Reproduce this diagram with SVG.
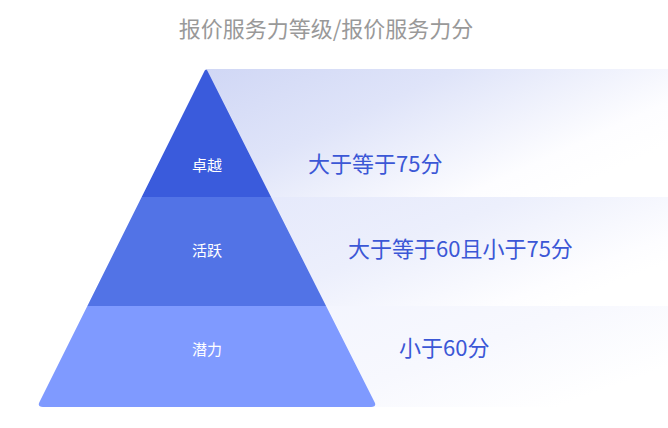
<svg xmlns="http://www.w3.org/2000/svg" width="668" height="428" viewBox="0 0 668 428">
  <style>
    .title { font-family: "Noto Sans CJK SC", "Noto Sans", sans-serif; font-size: 22px; fill: #999999; }
    .lvl { font-family: "Noto Sans CJK SC", "Noto Sans", sans-serif; font-size: 15px; fill: #ffffff; }
    .desc { font-family: "Noto Sans CJK SC", "Noto Sans", sans-serif; font-size: 22px; fill: #3b57d6; }
  </style>
  <defs>
    <linearGradient id="g1" x1="0" y1="0" x2="1" y2="0.6">
      <stop offset="0" stop-color="#d0d7f5"/>
      <stop offset="0.4" stop-color="#dfe4f9"/>
      <stop offset="0.85" stop-color="#fdfdff"/>
      <stop offset="1" stop-color="#ffffff"/>
    </linearGradient>
    <linearGradient id="g2" x1="0" y1="0" x2="1" y2="0.6">
      <stop offset="0" stop-color="#e4e8fb"/>
      <stop offset="0.5" stop-color="#eceffc"/>
      <stop offset="0.9" stop-color="#fdfdff"/>
      <stop offset="1" stop-color="#ffffff"/>
    </linearGradient>
    <linearGradient id="g3" x1="0" y1="0" x2="1" y2="0.6">
      <stop offset="0" stop-color="#f2f4fe"/>
      <stop offset="0.6" stop-color="#f7f8fe"/>
      <stop offset="1" stop-color="#ffffff"/>
    </linearGradient>
    <clipPath id="tri">
      <path d="M203.5 73 Q206 66 208.5 73 L374.5 402 Q377 407 371 407 L43 407 Q37 407 39.5 402 Z"/>
    </clipPath>
  </defs>

  <text class="title" x="326" y="37" text-anchor="middle">报价服务力等级/报价服务力分</text>

  <g id="backgrounds">
    <rect x="206" y="69" width="462" height="128" fill="url(#g1)"/>
    <rect x="206" y="197" width="462" height="109" fill="url(#g2)"/>
    <rect x="206" y="306" width="462" height="101" fill="url(#g3)"/>
  </g>

  <g id="connectors"></g>

  <g id="level-top">
    <rect x="30" y="60" width="360" height="137" fill="#3a5bdc" clip-path="url(#tri)"/>
    <text class="lvl" x="207" y="171" text-anchor="middle">卓越</text>
    <text class="desc" x="308" y="172">大于等于75分</text>
  </g>
  <g id="level-mid">
    <rect x="30" y="197" width="360" height="109" fill="#5273e6" clip-path="url(#tri)"/>
    <text class="lvl" x="207" y="256" text-anchor="middle">活跃</text>
    <text class="desc" x="348" y="257">大于等于60且小于75分</text>
  </g>
  <g id="level-bottom">
    <rect x="30" y="306" width="360" height="101" fill="#7f9aff" clip-path="url(#tri)"/>
    <text class="lvl" x="207" y="355" text-anchor="middle">潜力</text>
    <text class="desc" x="399" y="356">小于60分</text>
  </g>
</svg>
